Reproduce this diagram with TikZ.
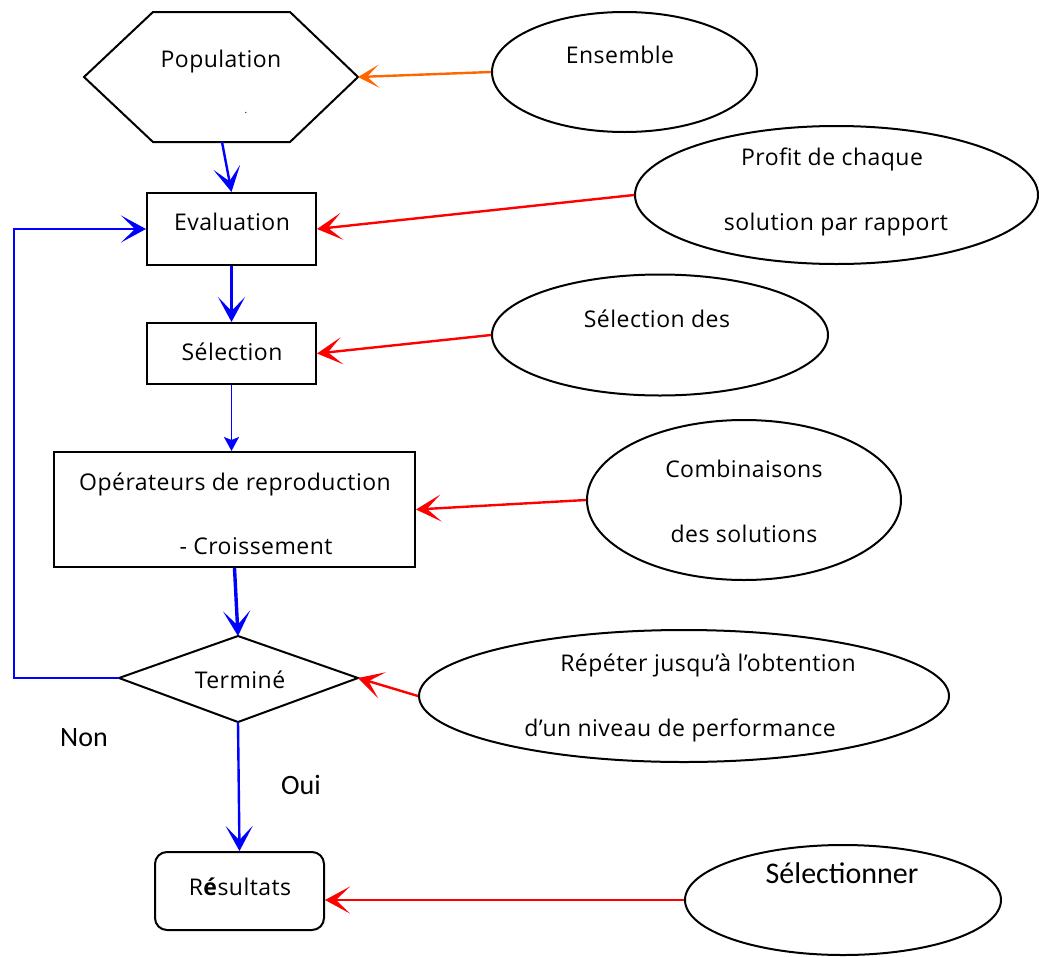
\documentclass[tikz,border=0pt]{standalone}
\usepackage{fontspec}
\setmainfont{Open Sans}[LetterSpace=2]
\newfontfamily\calib{Carlito}
\usetikzlibrary{arrows.meta,shapes.geometric}
\definecolor{flowblue}{RGB}{0,0,255}
\definecolor{linkred}{RGB}{255,0,0}
\definecolor{linkorange}{RGB}{255,102,0}

\begin{document}
\begin{tikzpicture}[x=1pt,y=-1pt,
  txt/.style={font=\fontsize{23}{27}\selectfont, inner sep=0pt, anchor=base},
  sidetxt/.style={font=\calib\fontsize{28}{32}\selectfont, inner sep=0pt, anchor=base},
  stepbox/.style={draw, line width=2pt, inner sep=0pt},
  bubble/.style={draw, ellipse, line width=2pt, inner sep=0pt},
  bighead/.style={-{Stealth[length=25pt,width=27pt,inset=14pt]}},
  smallhead/.style={-{Stealth[length=14pt,width=15pt,inset=3pt]}},
  flow/.style={draw=flowblue, line width=2.4pt, bighead},
  link/.style={draw=linkred, line width=2.4pt, bighead},
]
\useasboundingbox (0,0) rectangle (1039,956);

% --- main chain -------------------------------------------------------
% population hexagon
\coordinate (pL) at (84,77);
\coordinate (pTL) at (153,12);
\coordinate (pTR) at (290,12);
\coordinate (pR) at (358,77);
\coordinate (pBR) at (290,142);
\coordinate (pBL) at (153,142);
\coordinate (pB) at (222,142);
\draw[line width=2pt, line join=miter] (pL) -- (pTL) -- (pTR) -- (pR) -- (pBR) -- (pBL) -- cycle;
\node[txt] (tpop) at (221,67) {Population};
\node[txt, font=\fontsize{10}{12}\selectfont] (tdot) at (246,113) {.};

\node[stepbox, minimum width=169pt, minimum height=72pt] (eval) at (231.5,229) {};
\node[txt] (teval) at (232,230) {Evaluation};

\node[stepbox, minimum width=169pt, minimum height=61pt] (sel) at (231.5,353.5) {};
\node[txt] (tsel) at (232,360) {Sélection};

\node[stepbox, minimum width=361pt, minimum height=115pt] (ops) at (234.5,509.5) {};
\node[txt] (tops1) at (235,490) {Opérateurs de reproduction};
\node[txt] (tops2) at (256,554) {- Croissement};

% decision diamond
\coordinate (dL) at (119,678);
\coordinate (dT) at (238,636);
\coordinate (dR) at (358,678);
\coordinate (dB) at (238,722);
\draw[line width=2pt, line join=miter] (dL) -- (dT) -- (dR) -- (dB) -- cycle;
\node[txt] (tdone) at (240,688) {Terminé};

\node[stepbox, rounded corners=12pt, minimum width=169pt, minimum height=78pt] (res) at (239.5,891) {};
\node[txt] (tres) at (240,895) {R\textbf{é}sultats};

\node[sidetxt] (tnon) at (84,746) {Non};
\node[sidetxt] (toui) at (301,794) {Oui};

% --- explanatory bubbles ----------------------------------------------
\node[bubble, minimum width=265pt, minimum height=120pt] (ens) at (624.5,72) {};
\node[txt] (tens) at (620,63) {Ensemble};

\node[bubble, minimum width=403pt, minimum height=138pt] (prof) at (836.5,195) {};
\node[txt] (tprof1) at (832,165) {Profit de chaque};
\node[txt] (tprof2) at (836,230) {solution par rapport};

\node[bubble, minimum width=336pt, minimum height=121pt] (seld) at (660,335) {};
\node[txt] (tseld) at (657,327) {Sélection des};

\node[bubble, minimum width=314pt, minimum height=160pt] (comb) at (744,500) {};
\node[txt] (tcomb1) at (744,477) {Combinaisons};
\node[txt] (tcomb2) at (744,542) {des solutions};

\node[bubble, minimum width=530pt, minimum height=132pt] (rep) at (684,696) {};
\node[txt] (trep1) at (708,671) {Répéter jusqu’à l’obtention};
\node[txt] (trep2) at (680,736) {d’un niveau de performance};

\node[bubble, minimum width=316pt, minimum height=110pt] (selc) at (843,900) {};
\node[sidetxt, font=\calib\fontsize{30}{34}\selectfont] (tselc) at (842,883) {Sélectionner};

% --- connectors --------------------------------------------------------
\draw[flow] (pB) -- (eval.north);
\draw[flow] (eval.south) -- (sel.north);
\draw[draw=flowblue, line width=1.7pt, smallhead] (sel.south) -- (sel.south |- ops.north);
\draw[draw=flowblue, line width=3.4pt, bighead] (ops.south) -- (dT);
\draw[flow] (dB) -- (res.north);
\coordinate (loopB) at (14,678);
\draw[flow] (dL) -- (loopB) |- (eval.west);

\draw[draw=linkorange, line width=2.4pt, -{Stealth[length=21pt,width=23pt,inset=12pt]}] (ens.west) -- (pR);
\draw[link] (prof.west) -- (eval.east);
\draw[link] (seld.west) -- (sel.east);
\draw[link] (comb.west) -- (ops.east);
\draw[link] (rep.west) -- (dR);
\draw[link] (selc.west) -- (selc.west -| res.east);
\end{tikzpicture}
\end{document}
